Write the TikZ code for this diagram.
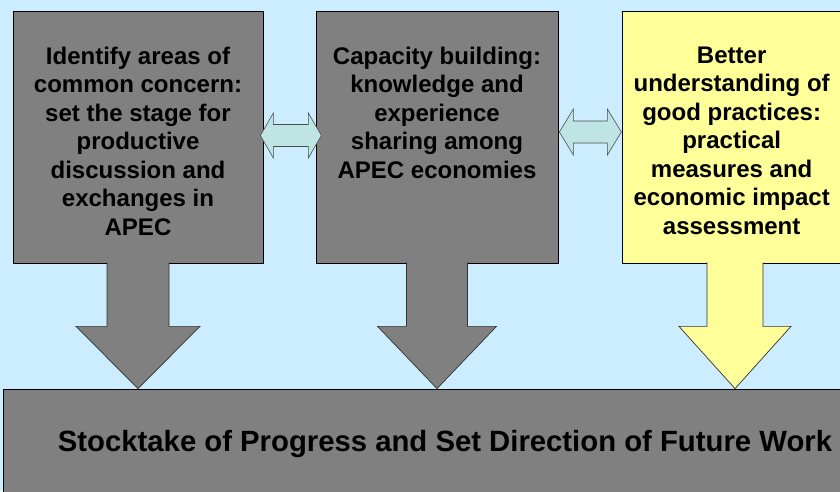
\documentclass[tikz,border=0pt]{standalone}
\usepackage{fontspec}
\setmainfont{Liberation Sans}
\usetikzlibrary{positioning}
\usetikzlibrary{calc}

\definecolor{skyback}{RGB}{204,236,255}
\definecolor{boxgray}{RGB}{128,128,128}
\definecolor{boxyellow}{RGB}{255,255,153}
\definecolor{linkteal}{RGB}{190,228,228}

\tikzset{
  box/.style={draw=black, line width=0.6pt, inner sep=0pt},
  boxtext/.style={align=center, inner sep=0pt, font=\fontsize{20.5pt}{24.3pt}\selectfont\bfseries},
  downarrow/.style={draw=black!80, line width=0.6pt, line join=miter},
  linkarrow/.style={draw=black!70, fill=linkteal, line width=0.5pt}
}

\begin{document}
\begin{tikzpicture}[x=0.03cm, y=-0.03cm]
  \useasboundingbox (0,0) rectangle (840,491);
  \clip (0,0) rectangle (840,491);
  \fill[skyback] (0,0) rectangle (840,491);

  % Three topic boxes
  \node[box, fill=boxgray, minimum width=7.5cm, minimum height=7.56cm] (idea) at (138,137) {};
  \node[box, fill=boxgray, minimum width=7.26cm, minimum height=7.56cm] (build) at (437,137) {};
  \node[box, fill=boxyellow, minimum width=6.78cm, minimum height=7.56cm] (practice) at (735,137) {};

  \node[boxtext, below=1.08cm of idea.north] (ideatext) {Identify areas of\\common concern:\\set the stage for\\productive\\discussion and\\exchanges in\\APEC};
  \node[boxtext, below=1.08cm of build.north] (buildtext) {Capacity building:\\knowledge and\\experience\\sharing among\\APEC economies};
  \node[boxtext, below=1.08cm of practice.north, xshift=-0.1cm] (practicetext) {Better\\understanding of\\good practices:\\practical\\measures and\\economic impact\\assessment};

  % Summary box
  \node[box, fill=boxgray, minimum width=26.52cm, minimum height=3.27cm,
        font=\fontsize{25pt}{30pt}\selectfont\bfseries] (stock) at (445,443.5)
        {Stocktake of Progress and Set Direction of Future Work};

  % Block arrows down
  \draw[downarrow, fill=boxgray] ($(idea.south)+(-31,-1)$) |- ($(idea.south)+(-62,63)$) -- (idea.south |- stock.north) -- ($(idea.south)+(62,63)$) -| ($(idea.south)+(31,-1)$);
  \draw[downarrow, fill=boxgray] ($(build.south)+(-30.5,-1)$) |- ($(build.south)+(-59.5,63)$) -- (build.south |- stock.north) -- ($(build.south)+(59.5,63)$) -| ($(build.south)+(30.5,-1)$);
  \draw[downarrow, fill=boxyellow] ($(practice.south)+(-28,-1)$) |- ($(practice.south)+(-56,63)$) -- (practice.south |- stock.north) -- ($(practice.south)+(56,63)$) -| ($(practice.south)+(28,-1)$);

  % Two-way links
  \draw[linkarrow] ($(idea.east)+(-3,-1.5)$) -- ++(13,-22.5) -- ++(0,11.5) -- ++(35,0) -- ++(0,-11.5) -- ++(13,22.5) -- ++(-13,22.5) -- ++(0,-11.5) -- ++(-35,0) -- ++(0,11.5) -- cycle;
  \draw[linkarrow] ($(build.east)+(1,-5)$) -- ++(14,-23) -- ++(0,12) -- ++(34,0) -- ++(0,-12) -- ++(14,23) -- ++(-14,23) -- ++(0,-12) -- ++(-34,0) -- ++(0,12) -- cycle;
\end{tikzpicture}
\end{document}
